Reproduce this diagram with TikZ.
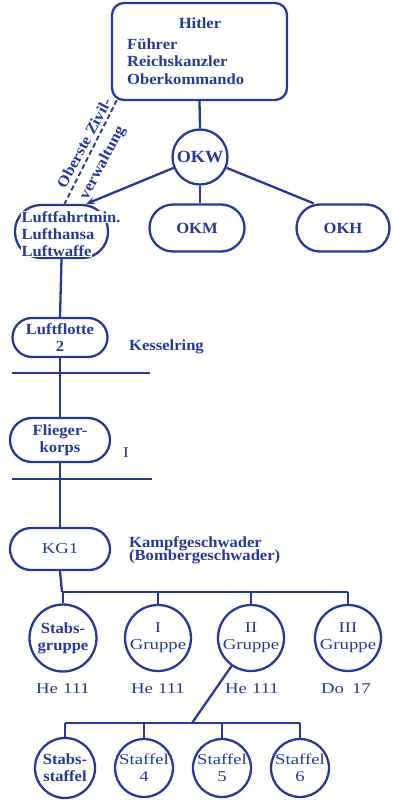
\documentclass[tikz,border=0pt]{standalone}
\usepackage{fontspec}
\setmainfont{Liberation Serif}[FakeStretch=1.07]
\newfontfamily\widef{Liberation Serif}[FakeStretch=1.25]
\usetikzlibrary{arrows.meta}
\definecolor{ink}{RGB}{40,58,148}
\begin{document}
\begin{tikzpicture}[x=1pt,y=-1pt,line width=2.3pt,color=ink,
  every node/.style={text=ink},
  bt/.style={font=\fontsize{15.5}{17}\selectfont\bfseries},
  rt/.style={font=\fontsize{15}{17}\selectfont\widef},
  pill/.style={draw=ink,rectangle,rounded corners=#1,inner sep=0pt},
  pill/.default=20pt,
  circ/.style={draw=ink,circle,inner sep=0pt,minimum size=#1,align=center},
  circ/.default=66pt,
  conn/.style={draw=ink,line width=2.3pt},
  lbl/.style={anchor=base west,inner sep=0pt}]
\useasboundingbox[fill=white] (0,0) rectangle (393,801);

% top box
\node[pill=12pt,minimum width=175pt,minimum height=97pt] (hitler) at (199.5,51.5) {};
\node[bt,anchor=base,inner sep=0pt] (th) at (200,28) {Hitler};
\node[bt,lbl] (t1) at (126,49) {Führer};
\node[bt,lbl] (t2) at (126,66.5) {Reichskanzler};
\node[bt,lbl] (t3) at (126,84) {Oberkommando};

% OKW and its branches
\node[circ=55pt,font=\fontsize{17}{20}\selectfont\bfseries] (okw) at (200,157) {OKW};
\node[pill=23.5pt,minimum width=95pt,minimum height=47pt,bt] (okm) at (197,228) {OKM};
\node[pill=23.5pt,minimum width=93pt,minimum height=47pt,bt] (okh) at (343,228) {OKH};
\node[pill=26pt,minimum width=93pt,minimum height=53pt] (luft) at (61.5,231.5) {};
\node[bt,lbl,fill=white,inner sep=0.4pt] (l1) at (20,222) {Luftfahrtmin.};
\node[bt,lbl,fill=white,inner sep=0.4pt] (l2) at (20,239) {Lufthansa};
\node[bt,lbl,fill=white,inner sep=0.4pt] (l3) at (20,256) {Luftwaffe};

\draw[conn] (hitler.south) -- (okw.north);
\draw[conn] (okw.south) -- (okw.south |- okm.north);
\draw[conn] (okw) -- (okh.140);
\draw[conn,-{Stealth[length=8pt,width=7pt]}] (okw) -- (luft.48);
\draw[conn,line width=1.9pt,dash pattern=on 5pt off 3pt] ([xshift=6pt,yshift=1pt]hitler.south west) -- ([xshift=3pt]luft.north);
\node[bt,rotate=62] (ob1) at (84,143) {Oberste Zivil-};
\node[bt,rotate=62] (ob2) at (103,163) {verwaltung};

% chain
\node[pill=19.5pt,minimum width=95pt,minimum height=39pt,bt,align=center] (lf) at (60,337.5) {Luftflotte\\2};
\node[bt,lbl] (kes) at (128,350) {Kesselring};
\node[pill=22pt,minimum width=100pt,minimum height=44pt,bt,align=center] (fk) at (60,440) {Flieger-\\korps};
\node[rt,anchor=base,inner sep=0pt] (fki) at (126,457) {I};
\node[pill=21pt,minimum width=100pt,minimum height=42pt,rt] (kg) at (60,549) {KG1};
\node[bt,lbl] (kg1) at (128,547) {Kampfgeschwader};
\node[bt,lbl] (kg2) at (128,560) {(Bombergeschwader)};

\coordinate (h1a) at (12,373);
\coordinate (h1b) at (150,373);
\coordinate (h2a) at (12,479);
\coordinate (h2b) at (152,479);
\draw[conn] (luft.south) -- (lf.north);
\draw[conn] (lf.south) -- (fk.north);
\draw[conn] (fk.south) -- (kg.north);
\draw[conn] (h1a) -- (h1b);
\draw[conn] (h2a) -- (h2b);

% Gruppen
\node[circ=67pt,bt] (g0) at (63,638) {Stabs-\\gruppe};
\node[circ=66pt,rt] (g1) at (158,638) {I\\Gruppe};
\node[circ=66pt,rt] (g2) at (251,638) {II\\Gruppe};
\node[circ=66pt,rt] (g3) at (348,638) {III\\Gruppe};
\coordinate (bus0) at (62,592);
\coordinate (bus3) at (348,592);
\draw[conn] (kg.south) -- (bus0);
\draw[conn] (bus0) -- (bus3);
\foreach \g in {g0,g1,g2,g3} {\draw[conn] (\g.north |- bus0) -- (\g.north);}
\node[rt,anchor=base,inner sep=0pt] (p0) at (63,693) {He\hspace{5pt}111};
\node[rt,anchor=base,inner sep=0pt] (p1) at (158,693) {He\hspace{5pt}111};
\node[rt,anchor=base,inner sep=0pt] (p2) at (252,693) {He\hspace{5pt}111};
\node[rt,anchor=base,inner sep=0pt] (p3) at (346,693) {Do\hspace{8pt}17};

% Staffeln
\node[circ=60pt,bt] (s0) at (65,768) {Stabs-\\staffel};
\node[circ=58pt,rt] (s1) at (144,768) {Staffel\\4};
\node[circ=58pt,rt] (s2) at (222,768) {Staffel\\5};
\node[circ=58pt,rt] (s3) at (300,768) {Staffel\\6};
\coordinate (sb) at (192,723);
\coordinate (sb0) at (65,723);
\coordinate (sb3) at (300,723);
\draw[conn] (g2) -- (sb);
\draw[conn] (sb0) -- (sb3);
\foreach \s in {s0,s1,s2,s3} {\draw[conn] (\s.north |- sb) -- (\s.north);}
\end{tikzpicture}
\end{document}
